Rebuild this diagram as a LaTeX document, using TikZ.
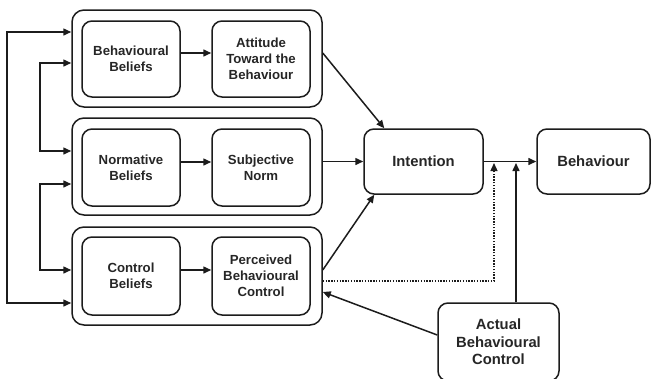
\documentclass[tikz,border=0pt]{standalone}
\usepackage{fontspec}
\setmainfont{Liberation Sans}
\usetikzlibrary{arrows.meta}
\definecolor{ink}{HTML}{1C1C1C}
\definecolor{txt}{HTML}{262626}
\tikzset{
  outerbox/.style={draw=ink, line width=1.5pt, rounded corners=12pt, minimum width=250pt, inner sep=0pt},
  innerbox/.style={draw=ink, line width=1.5pt, rounded corners=10pt, minimum width=98pt, inner sep=0pt, align=center, text=txt, font=\fontsize{13.2}{16}\selectfont\bfseries},
  bigbox/.style={draw=ink, line width=1.5pt, rounded corners=10pt, inner sep=0pt, align=center, text=txt, font=\fontsize{14.8}{17.5}\selectfont\bfseries},
  arr/.style={draw=ink, line width=1.5pt, -{Triangle[length=8pt,width=7pt]}},
  arrtwo/.style={draw=ink, line width=1.5pt, {Triangle[length=8pt,width=7pt]}-{Triangle[length=8pt,width=7pt]}},
  dotarr/.style={draw=ink, line width=1.3pt, dash pattern=on 1.4pt off 1.4pt, -{Triangle[length=8pt,width=7pt]}}
}
\begin{document}
\begin{tikzpicture}[x=1pt,y=-1pt]
\useasboundingbox (0,0) rectangle (651,378);
% outer group boxes
\node[outerbox, minimum height=97pt] (o1) at (197,58.5) {};
\node[outerbox, minimum height=97pt] (o2) at (197,166.5) {};
\node[outerbox, minimum height=98pt] (o3) at (197,276) {};
% inner boxes
\node[innerbox, minimum height=76pt] (bb) at (131,59) {Behavioural\\Beliefs};
\node[innerbox, minimum height=76pt] (att) at (261,59) {Attitude\\Toward the\\Behaviour};
\node[innerbox, minimum height=77pt] (nb) at (131,167.5) {Normative\\Beliefs};
\node[innerbox, minimum height=77pt] (sn) at (261,167.5) {Subjective\\Norm};
\node[innerbox, minimum height=78pt] (cb) at (131,276) {Control\\Beliefs};
\node[innerbox, minimum height=78pt] (pbc) at (261,276) {Perceived\\Behavioural\\Control};
% right boxes
\node[bigbox, minimum width=119pt, minimum height=65pt] (int) at (423.5,161.5) {Intention};
\node[bigbox, minimum width=113pt, minimum height=65pt] (beh) at (593.5,161.5) {Behaviour};
\node[bigbox, minimum width=121pt, minimum height=78pt] (abc) at (498.5,342) {Actual\\Behavioural\\Control};
% coordinates
\coordinate (L1) at (7,32);
\coordinate (L2) at (7,303);
\coordinate (L3) at (40,63);
\coordinate (L4) at (40,151);
\coordinate (L5) at (40,184);
\coordinate (L6) at (40,270);
\coordinate (j1) at (494,163);
\coordinate (j2) at (516,163);
% inner arrows
\draw[arr] ([yshift=6pt]bb.east) -- ([yshift=6pt]att.west);
\draw[arr] ([yshift=5.5pt]nb.east) -- ([yshift=5.5pt]sn.west);
\draw[arr] ([yshift=6pt]cb.east) -- ([yshift=6pt]pbc.west);
% to intention
\draw[arr] ([yshift=5.5pt]o1.east) -- ([xshift=21pt]int.north west);
\draw[arr] (o2.east |- int.west) -- (int.west);
\draw[arr] ([yshift=6pt]o3.east) -- ([xshift=11pt]int.south west);
\draw[arr] (int.east) -- (beh.west);
% control links
\draw[dotarr] ([yshift=-5pt]o3.east) -| (j1);
\draw[arr] ([xshift=17.5pt]abc.north) -- (j2);
\draw[arr] ([yshift=7pt]abc.west) -- ([yshift=-16pt]o3.east);
% left feedback brackets
\draw[arrtwo] ([yshift=26.5pt]o1.west) -- (L1) -- (L2) -- ([yshift=-27pt]o3.west);
\draw[arrtwo] ([yshift=-4.5pt]o1.west) -- (L3) -- (L4) -- ([yshift=15.5pt]o2.west);
\draw[arrtwo] ([yshift=-17.5pt]o2.west) -- (L5) -- (L6) -- ([yshift=6pt]o3.west);
\end{tikzpicture}
\end{document}
